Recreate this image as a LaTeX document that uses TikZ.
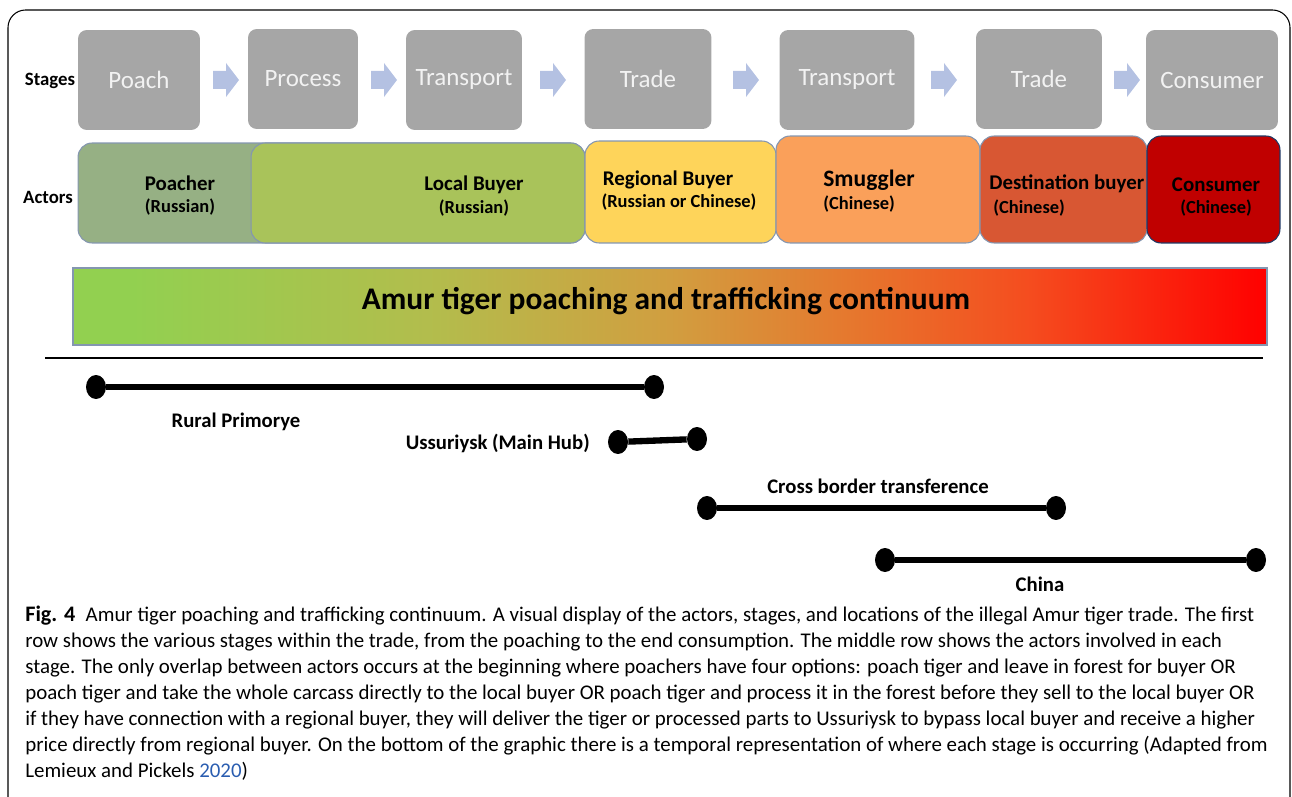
\documentclass[tikz,border=0pt]{standalone}
\usepackage{fontspec}
\setmainfont{Carlito}
\usetikzlibrary{shapes.geometric}

\definecolor{stagegray}{RGB}{166,166,166}
\definecolor{stagetext}{RGB}{242,242,242}
\definecolor{flowblue}{RGB}{180,193,226}
\definecolor{actorline}{RGB}{132,150,176}
\definecolor{poachgreen}{RGB}{150,176,132}
\definecolor{localgreen}{RGB}{169,195,90}
\definecolor{regyellow}{RGB}{254,212,90}
\definecolor{smugorange}{RGB}{250,160,90}
\definecolor{destred}{RGB}{216,87,51}
\definecolor{consred}{RGB}{192,0,0}
\definecolor{consline}{RGB}{31,56,100}
\definecolor{citeblue}{RGB}{42,93,176}

% path covers 25bp..75bp of the shading
\pgfdeclarehorizontalshading{continuum}{100bp}{
  rgb(0bp)=(0.573,0.816,0.314);
  rgb(27.5bp)=(0.573,0.816,0.314);
  rgb(40bp)=(0.70,0.74,0.30);
  rgb(50bp)=(0.82,0.62,0.25);
  rgb(57.5bp)=(0.90,0.47,0.18);
  rgb(65bp)=(0.96,0.30,0.12);
  rgb(75bp)=(1,0,0);
  rgb(100bp)=(1,0,0)}

\begin{document}
\begin{tikzpicture}[x=0.02cm, y=-0.02cm,
  stage/.style={fill=stagegray, rounded corners=5pt, minimum height=2cm, inner sep=0pt,
    text=stagetext, font=\fontsize{14.2}{17}\selectfont},
  actor/.style={draw=actorline, line width=0.6pt, rounded corners=8pt, minimum height=2cm, inner sep=0pt},
  side/.style={font=\bfseries\fontsize{10.7}{13}\selectfont},
  who/.style={font=\bfseries\fontsize{11.9}{14}\selectfont, inner sep=0pt},
  nat/.style={font=\bfseries\fontsize{10.5}{12}\selectfont, inner sep=0pt},
  place/.style={font=\bfseries\fontsize{11.8}{14}\selectfont, inner sep=0pt},
  stop/.style={ellipse, fill=black, minimum width=0.4cm, minimum height=0.48cm, inner sep=0pt},
  span/.style={line width=3.6pt}]
\useasboundingbox (0,0) rectangle (1292,797);

% frame
\draw[line width=0.6pt, rounded corners=10pt] (8,830) -- (8,10) -- (1290,10) -- (1290,830);

% stages
\node[side] (stages) at (50,81) {Stages};
\node[stage, minimum width=2.44cm] (s1) at (139,80) {Poach};
\node[stage, minimum width=2.20cm] (s2) at (303,79) {Process};
\node[stage, minimum width=2.32cm] (s3) at (464,80) {Transport};
\node[stage, minimum width=2.54cm] (s4) at (648,79) {Trade};
\node[stage, minimum width=2.70cm] (s5) at (847,80) {Transport};
\node[stage, minimum width=2.52cm] (s6) at (1039,79) {Trade};
\node[stage, minimum width=2.64cm] (s7) at (1212,80) {Consumer};

\foreach \x in {226,384,553,746,944,1127}
  \fill[flowblue] ({\x-13},71) -- (\x,71) -- (\x,63) -- ({\x+13},80) -- (\x,97) -- (\x,89) -- ({\x-13},89) -- cycle;

% actors
\node[side] (actors) at (48,197) {Actors};
\node[actor, fill=poachgreen, minimum width=10.14cm] (poacher) at (331.5,193) {};
\node[actor, fill=localgreen, minimum width=6.68cm] (local) at (418,193) {};
\node[actor, fill=regyellow, minimum width=3.82cm, minimum height=2.04cm] (regional) at (680.5,192) {};
\node[actor, fill=smugorange, minimum width=4.08cm, minimum height=2.14cm] (smuggler) at (878,189.5) {};
\node[actor, fill=destred, minimum width=3.34cm, minimum height=2.14cm] (dest) at (1063.5,189.5) {};
\node[actor, fill=consred, draw=consline, minimum width=2.66cm, minimum height=2.14cm] (cons) at (1213.5,189.5) {};

\node[who] (poacher1) at (180,183) {Poacher};
\node[nat] (poacher2) at (180,207) {(Russian)};
\node[who] (local1) at (474,185) {Local Buyer};
\node[nat] (local2) at (474,208) {(Russian)};
\node[who] (regional1) at (668,180) {Regional Buyer};
\node[nat] (regional2) at (679,202) {(Russian or Chinese)};
\node[who, font=\bfseries\fontsize{13.4}{16}\selectfont, anchor=west] (smuggler1) at (823,180) {Smuggler};
\node[nat, anchor=west] (smuggler2) at (823,204) {(Chinese)};
\node[who, anchor=west] (dest1) at (989,184) {Destination buyer};
\node[nat, anchor=west] (dest2) at (993,208) {(Chinese)};
\node[who] (cons1) at (1216,185) {Consumer};
\node[nat] (cons2) at (1216,208) {(Chinese)};

% continuum bar
\shade[shading=continuum] (73,268) rectangle (1267,345);
\draw[actorline, line width=0.8pt] (73,268) rectangle (1267,345);
\node[font=\bfseries\fontsize{17.9}{21}\selectfont] (title) at (666,301) {Amur tiger poaching and trafficking continuum};

\draw[line width=1.2pt] (45,358) -- (1263,358);

% locations
\node[stop] (rural1) at (96,387) {};
\node[stop] (rural2) at (654,387) {};
\draw[span] (rural1) -- (rural2);
\node[place] (rural) at (236,422) {Rural Primorye};

\node[stop] (hub1) at (618,442) {};
\node[stop] (hub2) at (697,439) {};
\draw[span] (hub1) -- (hub2);
\node[place, anchor=east] (hub) at (590,443) {Ussuriysk (Main Hub)};

\node[stop] (cross1) at (707,508) {};
\node[stop] (cross2) at (1056,508) {};
\draw[span] (cross1) -- (cross2);
\node[place] (cross) at (878,486) {Cross border transference};

\node[stop] (china1) at (885,560) {};
\node[stop] (china2) at (1256,560) {};
\draw[span] (china1) -- (china2);
\node[place] (china) at (1040,584) {China};

% caption
\node[anchor=north west, inner sep=0pt, align=left, font=\fontsize{11.9}{14.74}\selectfont] (caption) at (25,606)
{\textbf{\fontsize{12.6}{14.74}\selectfont Fig. 4}\enspace Amur tiger poaching and trafficking continuum. A visual display of the actors, stages, and locations of the illegal Amur tiger trade. The first\\
row shows the various stages within the trade, from the poaching to the end consumption. The middle row shows the actors involved in each\\
stage. The only overlap between actors occurs at the beginning where poachers have four options: poach tiger and leave in forest for buyer OR\\
poach tiger and take the whole carcass directly to the local buyer OR poach tiger and process it in the forest before they sell to the local buyer OR\\
if they have connection with a regional buyer, they will deliver the tiger or processed parts to Ussuriysk to bypass local buyer and receive a higher\\
price directly from regional buyer. On the bottom of the graphic there is a temporal representation of where each stage is occurring (Adapted from\\
Lemieux and Pickels \textcolor{citeblue}{2020})};
\end{tikzpicture}
\end{document}
